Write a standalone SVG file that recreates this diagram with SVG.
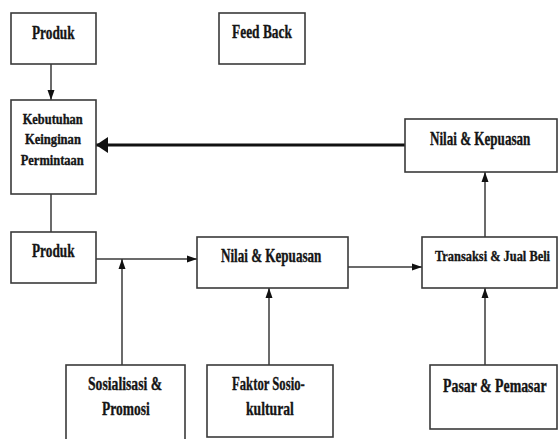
<svg xmlns="http://www.w3.org/2000/svg" width="558" height="439" viewBox="0 0 558 439">
<style>
.box{fill:#fff;stroke:#3a3a3a;stroke-width:1.6}
.t{font-family:"Liberation Serif","Times New Roman",serif;font-weight:bold;fill:#151515;stroke:#151515;stroke-width:0.35}
.conn{stroke:#3a3a3a;stroke-width:1.5;fill:none}
.thick{stroke:#111;stroke-width:3;fill:none}
</style>
<defs>
<marker id="ah" markerUnits="userSpaceOnUse" markerWidth="10" markerHeight="10" viewBox="0 0 10 10" refX="10" refY="5" orient="auto">
<path d="M0,1.5 L10,5 L0,8.5 Z" fill="#111"/>
</marker>
<marker id="ahb" markerUnits="userSpaceOnUse" markerWidth="12" markerHeight="18" viewBox="0 0 12 18" refX="12" refY="9" orient="auto">
<path d="M0,1 L12,9 L0,17 Z" fill="#111"/>
</marker>
</defs>
<rect width="558" height="439" fill="#fff"/>
<g id="connectors">
<line class="conn" x1="51" y1="64" x2="51" y2="100" marker-end="url(#ah)"/>
<line class="conn" x1="51" y1="194" x2="51" y2="232"/>
<line class="thick" x1="405" y1="145" x2="96" y2="145" marker-end="url(#ahb)"/>
<line class="conn" x1="96" y1="259" x2="197" y2="259" marker-end="url(#ah)"/>
<line class="conn" x1="122" y1="365" x2="122" y2="259" marker-end="url(#ah)"/>
<line class="conn" x1="269" y1="365" x2="269" y2="288" marker-end="url(#ah)"/>
<line class="conn" x1="348" y1="267" x2="422" y2="267" marker-end="url(#ah)"/>
<line class="conn" x1="485" y1="365" x2="485" y2="288" marker-end="url(#ah)"/>
<line class="conn" x1="485" y1="237" x2="485" y2="172" marker-end="url(#ah)"/>
</g>
<g id="produk-top">
<rect class="box" x="11" y="13" width="85" height="51"/>
<text class="t" font-size="19" transform="translate(32,39) scale(0.70,1)">Produk</text>
</g>
<g id="feedback">
<rect class="box" x="219" y="13" width="86" height="51"/>
<text class="t" font-size="19" transform="translate(232,38) scale(0.706,1)">Feed Back</text>
</g>
<g id="kebutuhan">
<rect class="box" x="11" y="100" width="85" height="94"/>
<text class="t" font-size="14.5" transform="translate(22.7,124) scale(0.856,1)">Kebutuhan</text>
<text class="t" font-size="14.5" transform="translate(25,144) scale(0.868,1)">Keinginan</text>
<text class="t" font-size="14.5" transform="translate(20.7,164.5) scale(0.86,1)">Permintaan</text>
</g>
<g id="nilai-top">
<rect class="box" x="405" y="119" width="152" height="53"/>
<text class="t" font-size="18.5" transform="translate(430,145) scale(0.708,1)">Nilai &amp; Kepuasan</text>
</g>
<g id="produk-mid">
<rect class="box" x="11" y="232" width="85" height="51"/>
<text class="t" font-size="19" transform="translate(32,257) scale(0.70,1)">Produk</text>
</g>
<g id="nilai-mid">
<rect class="box" x="197" y="237" width="151" height="51"/>
<text class="t" font-size="18.5" transform="translate(221,262.3) scale(0.708,1)">Nilai &amp; Kepuasan</text>
</g>
<g id="transaksi">
<rect class="box" x="422" y="237" width="135" height="51"/>
<text class="t" font-size="15.5" transform="translate(435,260.7) scale(0.80,1)">Transaksi &amp; Jual Beli</text>
</g>
<g id="sosialisasi">
<rect class="box" x="66" y="365" width="119" height="80"/>
<text class="t" font-size="18.5" transform="translate(88,390) scale(0.74,1)">Sosialisasi &amp;</text>
<text class="t" font-size="18.5" transform="translate(102,415) scale(0.73,1)">Promosi</text>
</g>
<g id="faktor">
<rect class="box" x="207" y="365" width="126" height="72"/>
<text class="t" font-size="18.5" transform="translate(232,390) scale(0.686,1)">Faktor Sosio-</text>
<text class="t" font-size="18.5" transform="translate(246,415) scale(0.74,1)">kultural</text>
</g>
<g id="pasar">
<rect class="box" x="430" y="365" width="127" height="64"/>
<text class="t" font-size="18" transform="translate(443,392) scale(0.77,1)">Pasar &amp; Pemasar</text>
</g>
</svg>
